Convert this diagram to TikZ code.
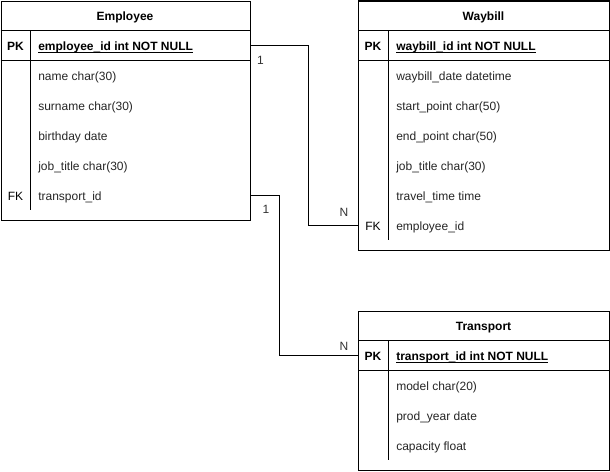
\documentclass[tikz,border=0pt]{standalone}
\usepackage{fontspec}
\setmainfont{Liberation Sans}
\newcommand{\pkline}[1]{\setbox0\hbox{#1}\rlap{\rule[-1.6pt]{\wd0}{0.6pt}}\box0}
\begin{document}
\begin{tikzpicture}[x=0.75pt,y=-0.75pt,
  tbox/.style={draw, line width=0.75pt, anchor=north west, inner sep=0pt, fill=white},
  sep/.style={line width=0.75pt},
  title/.style={font=\fontsize{9pt}{11pt}\selectfont\bfseries, inner sep=0pt, anchor=base},
  fld/.style={font=\fontsize{9pt}{11pt}\selectfont, anchor=base west, inner sep=0pt, text=black!85},
  pkf/.style={font=\fontsize{9pt}{11pt}\selectfont\bfseries, anchor=base west, inner sep=0pt},
  keyl/.style={font=\fontsize{9pt}{11pt}\selectfont, inner sep=0pt, anchor=base},
  card/.style={font=\fontsize{9pt}{11pt}\selectfont, inner sep=0pt, text=black!80, anchor=base},
  conn/.style={line width=0.75pt}]
\useasboundingbox (0,0) rectangle (610,471);
\fill[white] (0,0) rectangle (610,471);

% Employee
\node[tbox, minimum width=187.1pt, minimum height=164.6pt] (emp) at (0.5,0.5) {};
\draw[sep] (0.5,30.5) -- (250,30.5);
\draw[sep] (0.5,60.5) -- (250,60.5);
\draw[sep] (30.5,30.5) -- (30.5,210);
\node[title] (empt) at (125,20) {Employee};
\node[keyl] (epkl) at (15.5,50.5) {\textbf{PK}};
\node[pkf] (epk) at (38,50.5) {\pkline{employee\_id int NOT NULL}};
\node[fld] (e1) at (38,80.3) {name char(30)};
\node[fld] (e2) at (38,110.3) {surname char(30)};
\node[fld] (e3) at (38,140.3) {birthday date};
\node[fld] (e4) at (38,170.3) {job\_title char(30)};
\node[keyl] (efkl) at (15.5,200.3) {FK};
\node[fld] (efk) at (38,200.3) {transport\_id};

% Waybill
\node[tbox, minimum width=187.9pt, minimum height=187.1pt] (wb) at (358,0.5) {};
\draw[sep] (358,30.5) -- (608.5,30.5);
\draw[sep] (358,60.5) -- (608.5,60.5);
\draw[sep] (388,30.5) -- (388,240);
\node[title] (wbt) at (483.5,20) {Waybill};
\node[keyl] (wpkl) at (373,50.5) {\textbf{PK}};
\node[pkf] (wpk) at (396,50.5) {\pkline{waybill\_id int NOT NULL}};
\node[fld] (w1) at (396,80.3) {waybill\_date datetime};
\node[fld] (w2) at (396,110.3) {start\_point char(50)};
\node[fld] (w3) at (396,140.3) {end\_point char(50)};
\node[fld] (w4) at (396,170.3) {job\_title char(30)};
\node[fld] (w5) at (396,200.3) {travel\_time time};
\node[keyl] (wfkl) at (373,230.3) {FK};
\node[fld] (wfk) at (396,230.3) {employee\_id};

% Transport
\node[tbox, minimum width=187.9pt, minimum height=119.25pt] (tr) at (358,311) {};
\draw[sep] (358,340.5) -- (608.5,340.5);
\draw[sep] (358,370.5) -- (608.5,370.5);
\draw[sep] (388,340.5) -- (388,460);
\node[title] (trt) at (483.5,330) {Transport};
\node[keyl] (tpkl) at (373,360.5) {\textbf{PK}};
\node[pkf] (tpk) at (396,360.5) {\pkline{transport\_id int NOT NULL}};
\node[fld] (t1) at (396,390.3) {model char(20)};
\node[fld] (t2) at (396,420.3) {prod\_year date};
\node[fld] (t3) at (396,450.3) {capacity float};

% connectors
\coordinate (c1) at (308.5,135);
\coordinate (c2) at (279.5,275);
\draw[conn] (emp.east |- 0,45.5) -| (c1) |- (wb.west |- 0,225.5);
\draw[conn] (emp.east |- 0,195.5) -| (c2) |- (tr.west |- 0,355.5);
\node[card] (l1) at (260.5,64) {1};
\node[card] (l2) at (266,213.7) {1};
\node[card] (n1) at (344,216) {N};
\node[card] (n2) at (344,350.7) {N};
\end{tikzpicture}
\end{document}
